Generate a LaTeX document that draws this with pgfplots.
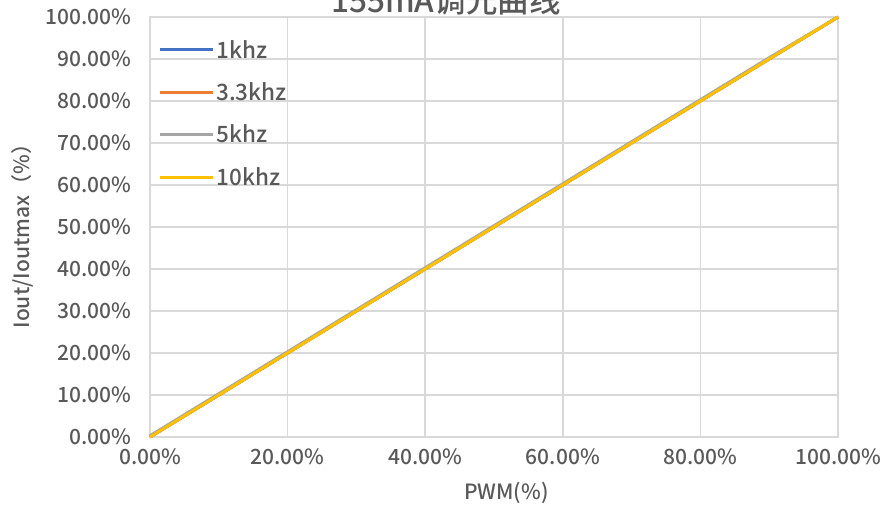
\documentclass[border=0pt]{standalone}
\usepackage{pgfplots}
\pgfplotsset{compat=1.18}
\usepackage{fontspec}
\setmainfont{Noto Sans CJK SC Medium}
\definecolor{gridgray}{HTML}{D9D9D9}
\definecolor{txtgray}{HTML}{595959}
\definecolor{c1}{HTML}{4472C4}
\definecolor{c2}{HTML}{ED7D31}
\definecolor{c3}{HTML}{A5A5A5}
\definecolor{c4}{HTML}{FFC000}
\begin{document}
\begin{tikzpicture}[x=1pt,y=1pt]
\useasboundingbox (0,0) rectangle (884,509);
\clip (0,0) rectangle (884,509);
\begin{axis}[
  at={(150pt,72pt)}, anchor=south west,
  scale only axis, width=688pt, height=420pt,
  xmin=0, xmax=100, ymin=0, ymax=100,
  xtick={0,20,40,60,80,100},
  xticklabels={0.00\%,20.00\%,40.00\%,60.00\%,80.00\%,100.00\%},
  ytick={0,10,20,30,40,50,60,70,80,90,100},
  yticklabels={0.00\%,10.00\%,20.00\%,30.00\%,40.00\%,50.00\%,60.00\%,70.00\%,80.00\%,90.00\%,100.00\%},
  major tick length=0pt,
  grid=major,
  major grid style={draw=gridgray, line width=1.5pt},
  axis line style={draw=gridgray, line width=1.5pt},
  tick label style={font=\fontsize{21}{25}\selectfont, text=txtgray},
  yticklabel style={xshift=-15pt},
  xticklabel style={yshift=-8pt},
  xlabel={PWM(\%)},
  ylabel={Iout/Ioutmax（\%）},
  every axis x label/.style={at={(axis description cs:0.518,-0.133)}, anchor=center, font=\fontsize{21}{25}\selectfont, text=txtgray},
  every axis y label/.style={at={(axis description cs:-0.186,0.49)}, anchor=center, rotate=90, font=\fontsize{21}{25}\selectfont, text=txtgray},
  legend cell align=left,
  legend image code/.code={\draw[#1] (0pt,0pt) -- (53pt,0pt);},
  legend style={at={(axis description cs:0.012,0.95)}, anchor=north west, draw=none, fill=none,
    font=\fontsize{22.5}{26}\selectfont, text=txtgray, row sep=19pt, inner sep=0pt,
    nodes={inner sep=2pt}},
  clip=false,
]
\addplot[c1, line width=3pt] coordinates {(0,0) (10,10) (20,20) (30,30) (40,40) (50,50) (60,60) (70,70) (80,80) (90,90) (100,100)};
\addlegendentry{1khz}
\addplot[c2, line width=3pt] coordinates {(0,0) (10,10) (20,20) (30,30) (40,40) (50,50) (60,60) (70,70) (80,80) (90,90) (100,100)};
\addlegendentry{3.3khz}
\addplot[c3, line width=3pt] coordinates {(0,0.3) (10,10.3) (20,20.3) (30,30.3) (40,40.3) (50,50.3) (60,60.3) (70,70.3) (80,80.3) (90,90.3) (100,100)};
\addlegendentry{5khz}
\addplot[c4, line width=3pt] coordinates {(0,0) (10,10) (20,20) (30,30) (40,40) (50,50) (60,60) (70,70) (80,80) (90,90) (100,100)};
\addlegendentry{10khz}
\end{axis}
\node[font=\fontsize{31.5}{36}\selectfont, text=txtgray, anchor=base] at (446,496) {155mA调光曲线};
\end{tikzpicture}
\end{document}
